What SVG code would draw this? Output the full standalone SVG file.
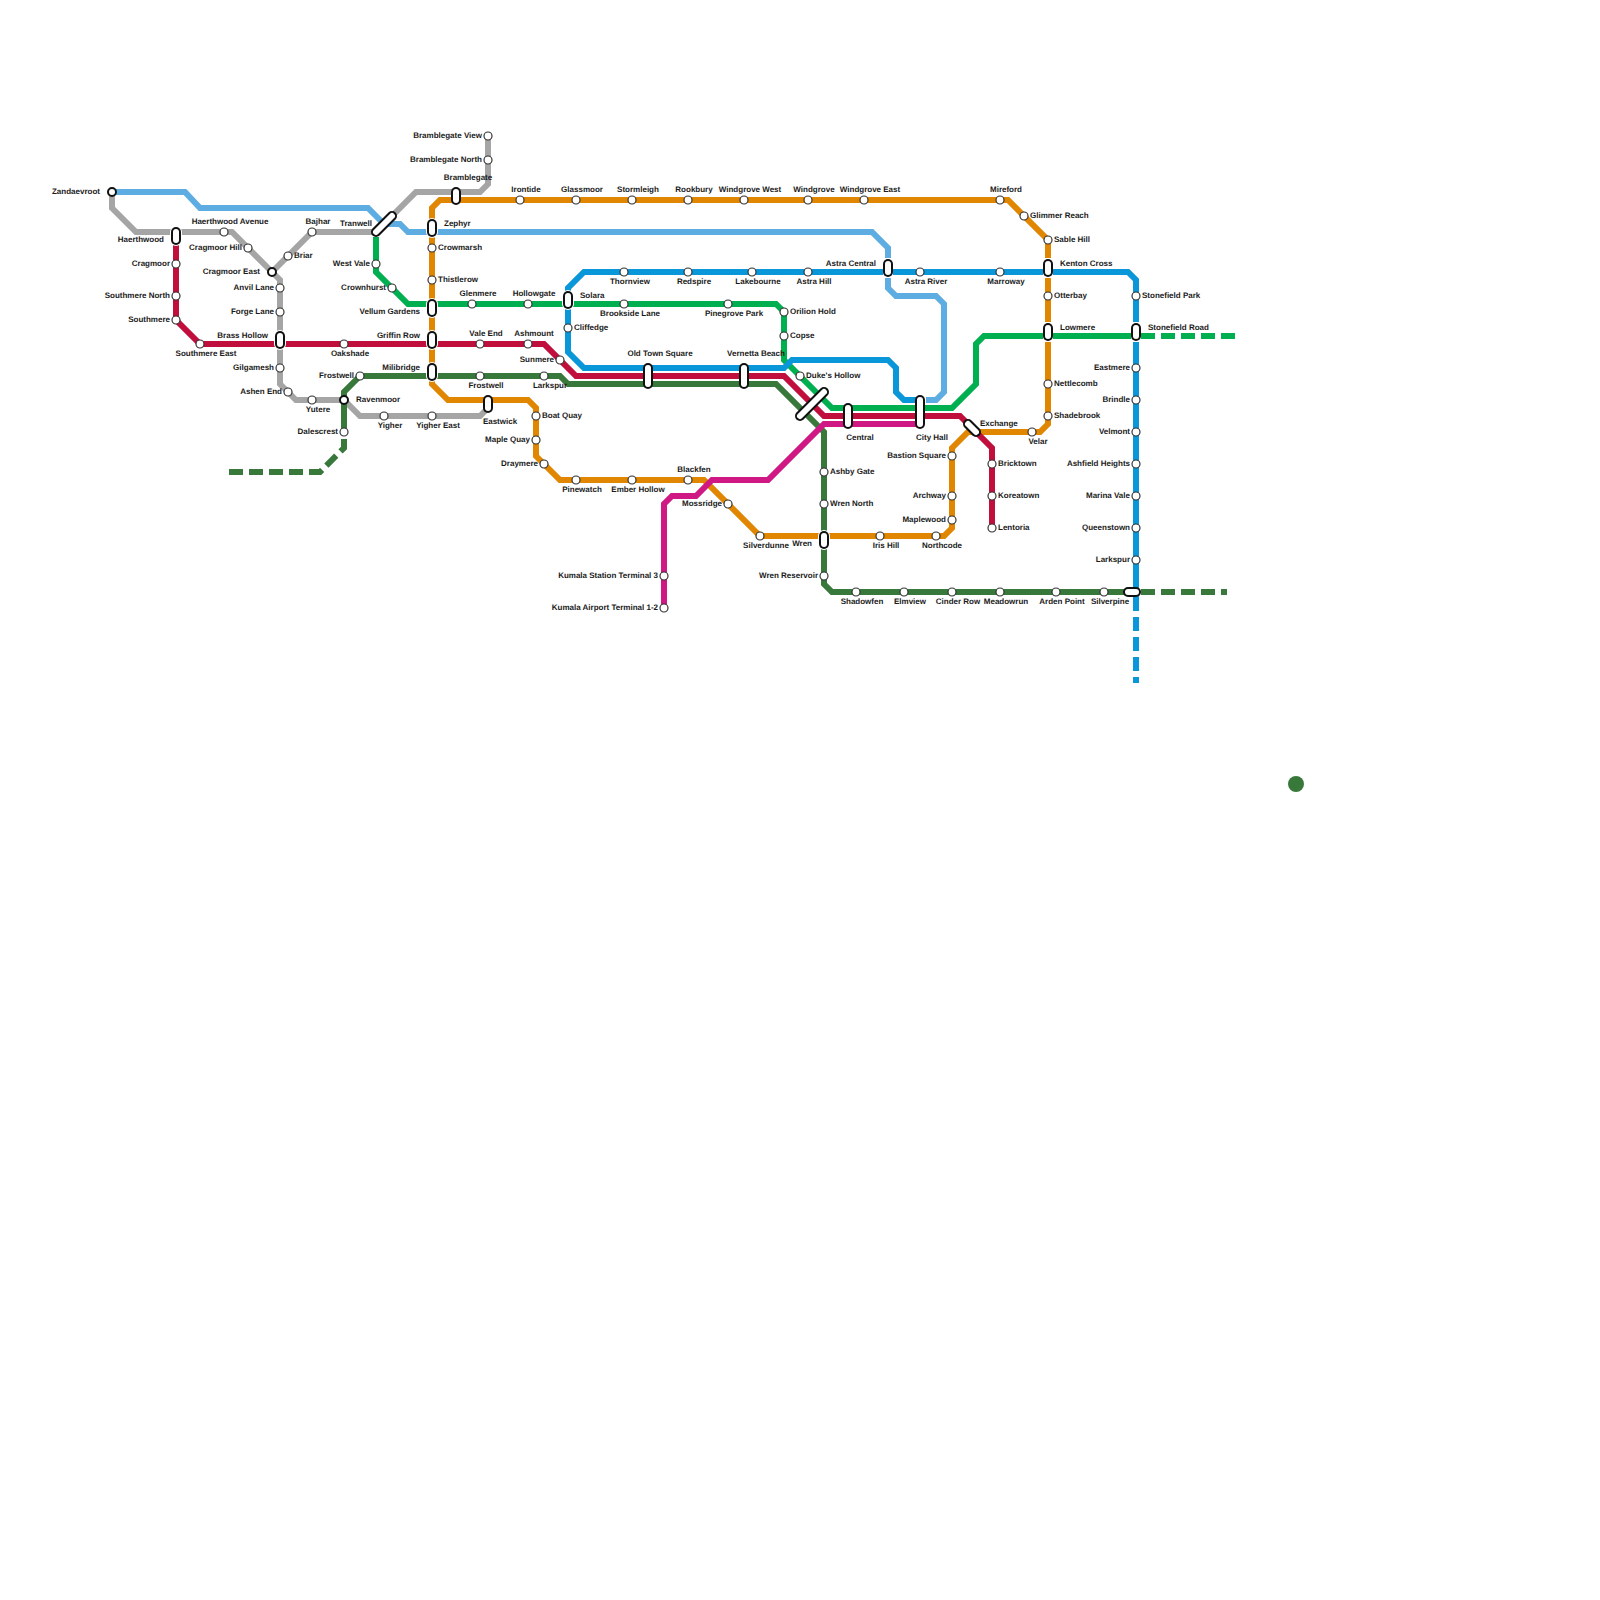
<svg xmlns="http://www.w3.org/2000/svg" width="1600" height="1600" viewBox="0 0 1600 1600">
<style>
text{font-family:"Liberation Sans",Arial,sans-serif;font-size:8px;font-weight:700;fill:#1a1a1a;text-rendering:geometricPrecision}
.e{text-anchor:end}.m{text-anchor:middle}
.ln{fill:none;stroke-width:6;stroke-linejoin:miter}
.d{stroke-dasharray:14 6}
.s{fill:#fff;stroke:#333;stroke-width:1.2}
.j{fill:#fff;stroke:#111;stroke-width:2}
.h,.k,.w{fill:none;stroke-linecap:round}
.h{stroke:#fff;stroke-width:12}.k{stroke:#111;stroke-width:10}.w{stroke:#fff;stroke-width:6}
.hb{fill:none;stroke:#fff;stroke-width:10}
.lb{stroke:#5dade2}.gy{stroke:#a5a5a5}.dg{stroke:#38793b}.or{stroke:#e08600}.gn{stroke:#00b050}.rd{stroke:#c00f3c}.bl{stroke:#0a97d9}.mg{stroke:#d01884}
</style>
<g id="connectors">
<path class="ln gy" d="M112 192V208L136 232H232L272 272L280 280V384L296 400H344L360 416H480L488 408"/>
<path class="ln gy" d="M272 272L312 232H376L416 192H480L488 184V136"/>
<path class="ln lb" d="M112 192H185L200 208H368L384 224H400L408 232H872L888 248V288L896 296H936L944 304V392L936 400H926"/>
<path class="ln dg" d="M344 432V392L360 376H560L568 384H776L824 432V584L832 592H1136"/>
<path class="ln dg d" d="M229 472H320L344 448V432"/>
<path class="ln dg d" d="M1141 592H1227"/>
<path class="ln or" d="M952 448L968 432H1040L1048 424V240L1008 200H440L432 208V384L448 400H528L536 408V456L560 480H704L760 536H944L952 528Z"/>
<path class="ln gn" d="M376 237V272L408 304H776L784 312V360L832 408H952L976 384V344L984 336H1141"/>
<path class="ln gn d" d="M1141 336H1235"/>
<path class="ln rd" d="M176 240V320L200 344H544L576 376H784L824 416H960L992 448V528"/>
<path class="ln bl" d="M920 400H904L896 392V368L888 360H792L784 368H584L568 352V288L584 272H1128L1136 280V597"/>
<path class="ln bl d" d="M1136 597V683"/>
<path class="ln mg" d="M920 424H824L768 480H712L696 496H672L664 504V608"/>
</g>
<g id="pills">
<g id="p-haerthwood"><path class="h" d="M176 232V240"/><path class="k" d="M176 232V240"/><path class="w" d="M176 232V240"/><text class="e" x="164" y="242">Haerthwood</text></g>
<g id="p-brass-hollow"><path class="h" d="M280 336V344"/><path class="k" d="M280 336V344"/><path class="w" d="M280 336V344"/><text class="e" x="268" y="338">Brass Hollow</text></g>
<g id="p-tranwell"><path class="k" d="M376 232L392 216"/><path class="w" d="M376 232L392 216"/><text class="e" x="372" y="226">Tranwell</text></g>
<g id="p-zephyr"><path class="h" d="M432 224V232"/><path class="k" d="M432 224V232"/><path class="w" d="M432 224V232"/><text x="444" y="226">Zephyr</text></g>
<g id="p-vellum"><path class="h" d="M432 304V312"/><path class="k" d="M432 304V312"/><path class="w" d="M432 304V312"/><text class="e" x="420" y="314">Vellum Gardens</text></g>
<g id="p-griffin"><path class="h" d="M432 336V344"/><path class="k" d="M432 336V344"/><path class="w" d="M432 336V344"/><text class="e" x="420" y="338">Griffin Row</text></g>
<g id="p-milibridge"><path class="h" d="M432 368V376"/><path class="k" d="M432 368V376"/><path class="w" d="M432 368V376"/><text class="e" x="420" y="370">Milibridge</text></g>
<g id="p-bramblegate"><path class="k" d="M456 192V200"/><path class="w" d="M456 192V200"/><text class="m" x="468" y="180">Bramblegate</text></g>
<g id="p-eastwick"><path class="k" d="M488 400V408"/><path class="w" d="M488 400V408"/><text class="m" x="500" y="424">Eastwick</text></g>
<g id="p-solara"><path class="h" d="M568 296V304"/><path class="k" d="M568 296V304"/><path class="w" d="M568 296V304"/><text x="580" y="298">Solara</text></g>
<g id="p-old-town"><path class="k" d="M648 368V384"/><path class="w" d="M648 368V384"/><text class="m" x="660" y="356">Old Town Square</text></g>
<g id="p-vernetta"><path class="k" d="M744 368V384"/><path class="w" d="M744 368V384"/><text class="m" x="756" y="356">Vernetta Beach</text></g>
<g id="p-junction"><path class="k" d="M800 416L824 392"/><path class="w" d="M800 416L824 392"/></g>
<g id="p-wren"><path class="h" d="M824 536V544"/><path class="k" d="M824 536V544"/><path class="w" d="M824 536V544"/><text class="e" x="812" y="546">Wren</text></g>
<g id="p-central"><path class="k" d="M848 408V424"/><path class="w" d="M848 408V424"/><text class="m" x="860" y="440">Central</text></g>
<g id="p-astra-central"><path class="hb" d="M888 258V278"/><path class="k" d="M888 264V272"/><path class="w" d="M888 264V272"/><text class="e" x="876" y="266">Astra Central</text></g>
<g id="p-city-hall"><path class="k" d="M920 400V424"/><path class="w" d="M920 400V424"/><text class="m" x="932" y="440">City Hall</text></g>
<g id="p-exchange"><path class="k" d="M968 424L976 432"/><path class="w" d="M968 424L976 432"/><text x="980" y="426">Exchange</text></g>
<g id="p-kenton"><path class="hb" d="M1048 258V278"/><path class="k" d="M1048 264V272"/><path class="w" d="M1048 264V272"/><text x="1060" y="266">Kenton Cross</text></g>
<g id="p-lowmere"><path class="hb" d="M1048 322V342"/><path class="k" d="M1048 328V336"/><path class="w" d="M1048 328V336"/><text x="1060" y="330">Lowmere</text></g>
<g id="p-stonefield-road"><path class="hb" d="M1136 322V342"/><path class="k" d="M1136 328V336"/><path class="w" d="M1136 328V336"/><text x="1148" y="330">Stonefield Road</text></g>
<g id="p-silverpine-x"><path class="k" d="M1128 592H1136"/><path class="w" d="M1128 592H1136"/></g>
</g>
<g id="stations">
<g id="s1"><circle class="j" cx="112" cy="192" r="4"/><text class="e" x="100" y="194">Zandaevroot</text></g>
<g id="s2"><circle class="j" cx="272" cy="272" r="4"/><text class="e" x="260" y="274">Cragmoor East</text></g>
<g id="s3"><circle class="j" cx="344" cy="400" r="4"/><text x="356" y="402">Ravenmoor</text></g>
<g id="s4"><circle class="s" cx="224" cy="232" r="4"/><text class="m" x="230" y="224">Haerthwood Avenue</text></g>
<g id="s5"><circle class="s" cx="248" cy="248" r="4"/><text class="e" x="242" y="250">Cragmoor Hill</text></g>
<g id="s6"><circle class="s" cx="280" cy="288" r="4"/><text class="e" x="274" y="290">Anvil Lane</text></g>
<g id="s7"><circle class="s" cx="280" cy="312" r="4"/><text class="e" x="274" y="314">Forge Lane</text></g>
<g id="s8"><circle class="s" cx="280" cy="368" r="4"/><text class="e" x="274" y="370">Gilgamesh</text></g>
<g id="s9"><circle class="s" cx="288" cy="392" r="4"/><text class="e" x="282" y="394">Ashen End</text></g>
<g id="s10"><circle class="s" cx="312" cy="400" r="4"/><text class="m" x="318" y="412">Yutere</text></g>
<g id="s11"><circle class="s" cx="384" cy="416" r="4"/><text class="m" x="390" y="428">Yigher</text></g>
<g id="s12"><circle class="s" cx="432" cy="416" r="4"/><text class="m" x="438" y="428">Yigher East</text></g>
<g id="s13"><circle class="s" cx="288" cy="256" r="4"/><text x="294" y="258">Briar</text></g>
<g id="s14"><circle class="s" cx="312" cy="232" r="4"/><text class="m" x="318" y="224">Bajhar</text></g>
<g id="s15"><circle class="s" cx="488" cy="136" r="4"/><text class="e" x="482" y="138">Bramblegate View</text></g>
<g id="s16"><circle class="s" cx="488" cy="160" r="4"/><text class="e" x="482" y="162">Bramblegate North</text></g>
<g id="s17"><circle class="s" cx="176" cy="264" r="4"/><text class="e" x="170" y="266">Cragmoor</text></g>
<g id="s18"><circle class="s" cx="176" cy="296" r="4"/><text class="e" x="170" y="298">Southmere North</text></g>
<g id="s19"><circle class="s" cx="176" cy="320" r="4"/><text class="e" x="170" y="322">Southmere</text></g>
<g id="s20"><circle class="s" cx="200" cy="344" r="4"/><text class="m" x="206" y="356">Southmere East</text></g>
<g id="s21"><circle class="s" cx="344" cy="344" r="4"/><text class="m" x="350" y="356">Oakshade</text></g>
<g id="s22"><circle class="s" cx="480" cy="344" r="4"/><text class="m" x="486" y="336">Vale End</text></g>
<g id="s23"><circle class="s" cx="528" cy="344" r="4"/><text class="m" x="534" y="336">Ashmount</text></g>
<g id="s24"><circle class="s" cx="560" cy="360" r="4"/><text class="e" x="554" y="362">Sunmere</text></g>
<g id="s25"><circle class="s" cx="344" cy="432" r="4"/><text class="e" x="338" y="434">Dalescrest</text></g>
<g id="s26"><circle class="s" cx="360" cy="376" r="4"/><text class="e" x="354" y="378">Frostwell</text></g>
<g id="s27"><circle class="s" cx="480" cy="376" r="4"/><text class="m" x="486" y="388">Frostwell</text></g>
<g id="s28"><circle class="s" cx="544" cy="376" r="4"/><text class="m" x="550" y="388">Larkspur</text></g>
<g id="s29"><circle class="s" cx="376" cy="264" r="4"/><text class="e" x="370" y="266">West Vale</text></g>
<g id="s30"><circle class="s" cx="392" cy="288" r="4"/><text class="e" x="386" y="290">Crownhurst</text></g>
<g id="s31"><circle class="s" cx="432" cy="248" r="4"/><text x="438" y="250">Crowmarsh</text></g>
<g id="s32"><circle class="s" cx="432" cy="280" r="4"/><text x="438" y="282">Thistlerow</text></g>
<g id="s33"><circle class="s" cx="472" cy="304" r="4"/><text class="m" x="478" y="296">Glenmere</text></g>
<g id="s34"><circle class="s" cx="528" cy="304" r="4"/><text class="m" x="534" y="296">Hollowgate</text></g>
<g id="s35"><circle class="s" cx="624" cy="304" r="4"/><text class="m" x="630" y="316">Brookside Lane</text></g>
<g id="s36"><circle class="s" cx="728" cy="304" r="4"/><text class="m" x="734" y="316">Pinegrove Park</text></g>
<g id="s37"><circle class="s" cx="568" cy="328" r="4"/><text x="574" y="330">Cliffedge</text></g>
<g id="s38"><circle class="s" cx="624" cy="272" r="4"/><text class="m" x="630" y="284">Thornview</text></g>
<g id="s39"><circle class="s" cx="688" cy="272" r="4"/><text class="m" x="694" y="284">Redspire</text></g>
<g id="s40"><circle class="s" cx="752" cy="272" r="4"/><text class="m" x="758" y="284">Lakebourne</text></g>
<g id="s41"><circle class="s" cx="808" cy="272" r="4"/><text class="m" x="814" y="284">Astra Hill</text></g>
<g id="s42"><circle class="s" cx="920" cy="272" r="4"/><text class="m" x="926" y="284">Astra River</text></g>
<g id="s43"><circle class="s" cx="1000" cy="272" r="4"/><text class="m" x="1006" y="284">Marroway</text></g>
<g id="s44"><circle class="s" cx="520" cy="200" r="4"/><text class="m" x="526" y="192">Irontide</text></g>
<g id="s45"><circle class="s" cx="576" cy="200" r="4"/><text class="m" x="582" y="192">Glassmoor</text></g>
<g id="s46"><circle class="s" cx="632" cy="200" r="4"/><text class="m" x="638" y="192">Stormleigh</text></g>
<g id="s47"><circle class="s" cx="688" cy="200" r="4"/><text class="m" x="694" y="192">Rookbury</text></g>
<g id="s48"><circle class="s" cx="744" cy="200" r="4"/><text class="m" x="750" y="192">Windgrove West</text></g>
<g id="s49"><circle class="s" cx="808" cy="200" r="4"/><text class="m" x="814" y="192">Windgrove</text></g>
<g id="s50"><circle class="s" cx="864" cy="200" r="4"/><text class="m" x="870" y="192">Windgrove East</text></g>
<g id="s51"><circle class="s" cx="1000" cy="200" r="4"/><text class="m" x="1006" y="192">Mireford</text></g>
<g id="s52"><circle class="s" cx="1024" cy="216" r="4"/><text x="1030" y="218">Glimmer Reach</text></g>
<g id="s53"><circle class="s" cx="1048" cy="240" r="4"/><text x="1054" y="242">Sable Hill</text></g>
<g id="s54"><circle class="s" cx="1048" cy="296" r="4"/><text x="1054" y="298">Otterbay</text></g>
<g id="s55"><circle class="s" cx="1048" cy="384" r="4"/><text x="1054" y="386">Nettlecomb</text></g>
<g id="s56"><circle class="s" cx="1048" cy="416" r="4"/><text x="1054" y="418">Shadebrook</text></g>
<g id="s57"><circle class="s" cx="1032" cy="432" r="4"/><text class="m" x="1038" y="444">Velar</text></g>
<g id="s58"><circle class="s" cx="952" cy="456" r="4"/><text class="e" x="946" y="458">Bastion Square</text></g>
<g id="s59"><circle class="s" cx="952" cy="496" r="4"/><text class="e" x="946" y="498">Archway</text></g>
<g id="s60"><circle class="s" cx="952" cy="520" r="4"/><text class="e" x="946" y="522">Maplewood</text></g>
<g id="s61"><circle class="s" cx="936" cy="536" r="4"/><text class="m" x="942" y="548">Northcode</text></g>
<g id="s62"><circle class="s" cx="880" cy="536" r="4"/><text class="m" x="886" y="548">Iris Hill</text></g>
<g id="s63"><circle class="s" cx="760" cy="536" r="4"/><text class="m" x="766" y="548">Silverdunne</text></g>
<g id="s64"><circle class="s" cx="728" cy="504" r="4"/><text class="e" x="722" y="506">Mossridge</text></g>
<g id="s65"><circle class="s" cx="688" cy="480" r="4"/><text class="m" x="694" y="472">Blackfen</text></g>
<g id="s66"><circle class="s" cx="632" cy="480" r="4"/><text class="m" x="638" y="492">Ember Hollow</text></g>
<g id="s67"><circle class="s" cx="576" cy="480" r="4"/><text class="m" x="582" y="492">Pinewatch</text></g>
<g id="s68"><circle class="s" cx="544" cy="464" r="4"/><text class="e" x="538" y="466">Draymere</text></g>
<g id="s69"><circle class="s" cx="536" cy="440" r="4"/><text class="e" x="530" y="442">Maple Quay</text></g>
<g id="s70"><circle class="s" cx="536" cy="416" r="4"/><text x="542" y="418">Boat Quay</text></g>
<g id="s71"><circle class="s" cx="664" cy="576" r="4"/><text class="e" x="658" y="578">Kumala Station Terminal 3</text></g>
<g id="s72"><circle class="s" cx="664" cy="608" r="4"/><text class="e" x="658" y="610">Kumala Airport Terminal 1-2</text></g>
<g id="s73"><circle class="s" cx="824" cy="472" r="4"/><text x="830" y="474">Ashby Gate</text></g>
<g id="s74"><circle class="s" cx="824" cy="504" r="4"/><text x="830" y="506">Wren North</text></g>
<g id="s75"><circle class="s" cx="824" cy="576" r="4"/><text class="e" x="818" y="578">Wren Reservoir</text></g>
<g id="s76"><circle class="s" cx="856" cy="592" r="4"/><text class="m" x="862" y="604">Shadowfen</text></g>
<g id="s77"><circle class="s" cx="904" cy="592" r="4"/><text class="m" x="910" y="604">Elmview</text></g>
<g id="s78"><circle class="s" cx="952" cy="592" r="4"/><text class="m" x="958" y="604">Cinder Row</text></g>
<g id="s79"><circle class="s" cx="1000" cy="592" r="4"/><text class="m" x="1006" y="604">Meadowrun</text></g>
<g id="s80"><circle class="s" cx="1056" cy="592" r="4"/><text class="m" x="1062" y="604">Arden Point</text></g>
<g id="s81"><circle class="s" cx="1104" cy="592" r="4"/><text class="m" x="1110" y="604">Silverpine</text></g>
<g id="s82"><circle class="s" cx="784" cy="312" r="4"/><text x="790" y="314">Orilion Hold</text></g>
<g id="s83"><circle class="s" cx="784" cy="336" r="4"/><text x="790" y="338">Copse</text></g>
<g id="s84"><circle class="s" cx="800" cy="376" r="4"/><text x="806" y="378">Duke's Hollow</text></g>
<g id="s85"><circle class="s" cx="992" cy="464" r="4"/><text x="998" y="466">Bricktown</text></g>
<g id="s86"><circle class="s" cx="992" cy="496" r="4"/><text x="998" y="498">Koreatown</text></g>
<g id="s87"><circle class="s" cx="992" cy="528" r="4"/><text x="998" y="530">Lentoria</text></g>
<g id="s88"><circle class="s" cx="1136" cy="296" r="4"/><text x="1142" y="298">Stonefield Park</text></g>
<g id="s89"><circle class="s" cx="1136" cy="368" r="4"/><text class="e" x="1130" y="370">Eastmere</text></g>
<g id="s90"><circle class="s" cx="1136" cy="400" r="4"/><text class="e" x="1130" y="402">Brindle</text></g>
<g id="s91"><circle class="s" cx="1136" cy="432" r="4"/><text class="e" x="1130" y="434">Velmont</text></g>
<g id="s92"><circle class="s" cx="1136" cy="464" r="4"/><text class="e" x="1130" y="466">Ashfield Heights</text></g>
<g id="s93"><circle class="s" cx="1136" cy="496" r="4"/><text class="e" x="1130" y="498">Marina Vale</text></g>
<g id="s94"><circle class="s" cx="1136" cy="528" r="4"/><text class="e" x="1130" y="530">Queenstown</text></g>
<g id="s95"><circle class="s" cx="1136" cy="560" r="4"/><text class="e" x="1130" y="562">Larkspur</text></g>
</g>
<circle id="dot" cx="1296" cy="784" r="8" fill="#38793b"/>
</svg>
